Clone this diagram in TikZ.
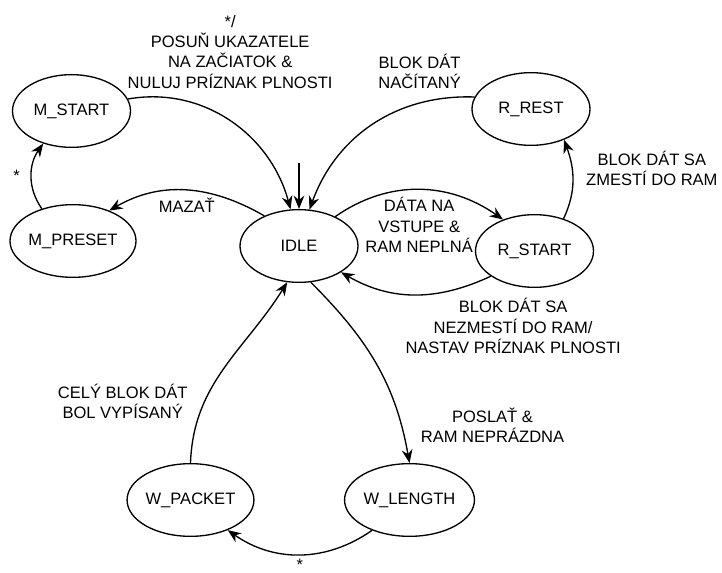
\documentclass[tikz,border=0pt]{standalone}
\usepackage{fontspec}
\setmainfont{Liberation Sans}
\usetikzlibrary{shapes.geometric,arrows.meta,positioning}

\begin{document}
\begin{tikzpicture}[
    x=0.75pt, y=0.75pt,
    state/.style={ellipse, draw=black, line width=1pt, minimum width=88.5pt, minimum height=54.5pt, inner sep=0pt, font=\fontsize{12.4}{15}\selectfont},
    note/.style={align=center, font=\fontsize{12.4}{15.2}\selectfont},
    arrow/.style={-{Stealth[length=10pt,width=8pt]}, line width=1pt}
]

\useasboundingbox (0,0) rectangle (722,572);

% States
\node [state] (mstart) at (71.5,461) {M\_START};
\node [state] (mpreset) at (73,331) {M\_PRESET};
\node [state] (idle) at (299,326) {IDLE};
\node [state] (rrest) at (531,463) {R\_REST};
\node [state] (rstart) at (534.5,321) {R\_START};
\node [state] (wpacket) at (190.5,72) {W\_PACKET};
\node [state] (wlength) at (409.5,72) {W\_LENGTH};
\coordinate (init) at (299,409);

% Transitions
\draw [arrow] (init) -- (idle.north);
\draw [arrow] (mstart.12) to[out=10, in=105] node[note, pos=0.5, above=21pt] {*/\\POSUŇ UKAZATELE\\NA ZAČIATOK \&\\NULUJ PRÍZNAK PLNOSTI} (idle.103);
\draw [arrow] (rrest.168) to[out=178, in=70] node[note, pos=0.25, above=7pt] {BLOK DÁT\\NAČÍTANÝ} (idle.74);
\draw [arrow] (idle.139) to[out=150, in=30] node[note, below=2pt] {MAZAŤ} (mpreset.40);
\draw [arrow] (mpreset.134) to[out=125, in=235] node[note, left=5pt] {*} (mstart.229);
\draw [arrow] (idle.39) to[out=35, in=145] node[note, below=2pt] {DÁTA NA\\VSTUPE \&\\RAM NEPLNÁ} (rstart.135);
\draw [arrow] (rstart.210) to[out=205, in=-30] node[note, pos=0.6, anchor=north west] {BLOK DÁT SA\\NEZMESTÍ DO RAM/\\NASTAV PRÍZNAK PLNOSTI} (idle.-32);
\draw [arrow] (rstart.48) to[out=65, in=-70] node[note, pos=0.65, right=7pt] {BLOK DÁT SA\\ZMESTÍ DO RAM} (rrest.-43);
\draw [arrow] (idle.-72) to[out=-45, in=100] node[note, pos=0.83, right=11pt] {POSLAŤ \&\\RAM NEPRÁZDNA} (wlength.north);
\draw [arrow] (wpacket.north) to[out=88, in=-122] node[note, pos=0.3, left=9pt] {CELÝ BLOK DÁT\\BOL VYPÍSANÝ} (idle.-108);
\draw [arrow] (wlength.219) to[out=215, in=-35] node[note, inner sep=1pt, below=2pt] {*} (wpacket.-39);

\end{tikzpicture}
\end{document}
